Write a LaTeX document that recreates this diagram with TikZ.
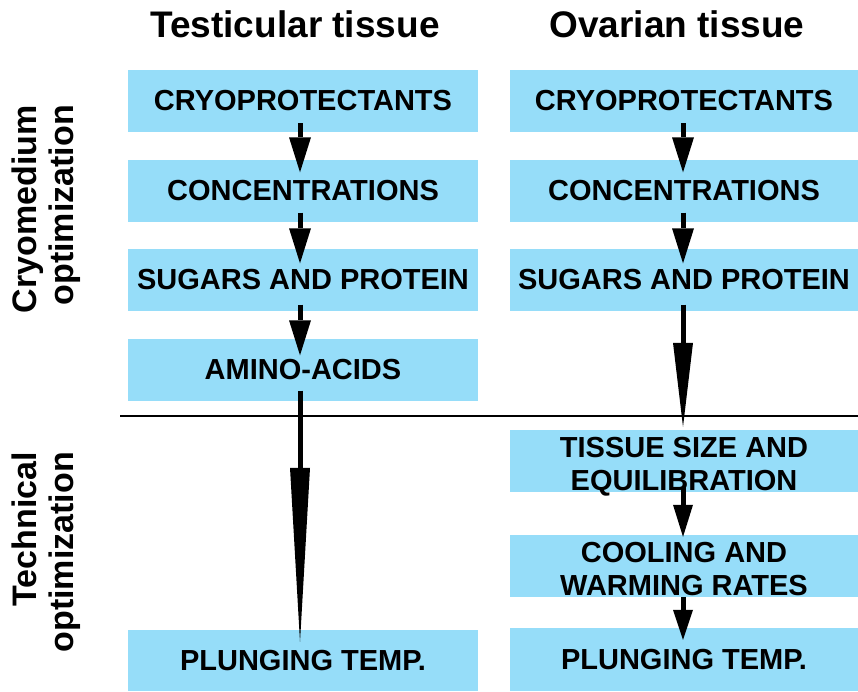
\documentclass[tikz,border=0pt]{standalone}
\usepackage{fontspec}
\setmainfont{Liberation Sans}
\usetikzlibrary{arrows.meta}
\definecolor{boxblue}{RGB}{150,221,249}
\tikzset{
  box/.style={rectangle, fill=boxblue, inner sep=0pt, minimum height=62pt,
    align=center, font=\bfseries\fontsize{29}{33}\selectfont},
  lbox/.style={box, minimum width=350pt},
  rbox/.style={box, minimum width=348pt},
  twoline/.style={text height=58pt, text depth=0pt},
  title/.style={font=\bfseries\fontsize{37}{40}\selectfont, anchor=base, inner sep=0pt},
  side/.style={font=\bfseries\fontsize{34}{37}\selectfont, rotate=90, align=right, anchor=east, inner sep=0pt},
  shaft/.style={line width=5pt},
}
\newcommand{\headtip}[2]{-{Triangle[length=#1pt,width=#2pt,line width=0pt]}}
\begin{document}
\begin{tikzpicture}[x=1pt,y=-1pt]
\useasboundingbox (0,0) rectangle (858,691);
% titles
\node[title] (tt) at (295,37) {Testicular tissue};
\node[title] (ot) at (677,37) {Ovarian tissue};
% side labels
\node[side] (cm) at (46.5,105) {Cryomedium\\optimization};
\node[side] (to) at (46.5,452) {Technical\\optimization};
% left column
\node[lbox] (l1) at (303,101) {CRYOPROTECTANTS};
\node[lbox] (l2) at (303,190.5) {CONCENTRATIONS};
\node[lbox] (l3) at (303,279.5) {SUGARS AND PROTEIN};
\node[lbox] (l4) at (303,369.5) {AMINO-ACIDS};
\node[lbox, minimum height=61pt] (l5) at (303,660.5) {PLUNGING TEMP.};
% right column
\node[rbox] (r1) at (684,101) {CRYOPROTECTANTS};
\node[rbox] (r2) at (684,190.5) {CONCENTRATIONS};
\node[rbox] (r3) at (684,279.5) {SUGARS AND PROTEIN};
\node[rbox, twoline] (r4) at (684,461) {TISSUE SIZE AND\\EQUILIBRATION};
\node[rbox, twoline] (r5) at (684,566) {COOLING AND\\WARMING RATES};
\node[rbox, minimum height=63pt] (r6) at (684,659.5) {PLUNGING TEMP.};
% separator
\coordinate (sepL) at (120,416);
\coordinate (sepR) at (858,416);
\draw[line width=2.2pt] (sepL) -- (sepR);
% left arrows
\draw[shaft, \headtip{35}{22}] ([xshift=-3pt,yshift=9pt]l1.south) -- ([xshift=-3pt,yshift=-13pt]l2.north);
\draw[shaft, \headtip{35}{22}] ([xshift=-3pt,yshift=9pt]l2.south) -- ([xshift=-3pt,yshift=-15pt]l3.north);
\draw[shaft, \headtip{35}{22}] ([xshift=-3pt,yshift=6pt]l3.south) -- ([xshift=-3pt,yshift=-17pt]l4.north);
\draw[shaft, \headtip{174}{20}] ([xshift=-3pt,yshift=10pt]l4.south) -- ([xshift=-3pt,yshift=-12pt]l5.north);
% right arrows
\draw[shaft, \headtip{35}{22}] ([xshift=-1pt,yshift=9pt]r1.south) -- ([xshift=-1pt,yshift=-13pt]r2.north);
\draw[shaft, \headtip{35}{22}] ([xshift=-1pt,yshift=9pt]r2.south) -- ([xshift=-1pt,yshift=-15pt]r3.north);
\draw[shaft, \headtip{84}{20}] ([xshift=-1pt,yshift=6pt]r3.south) -- ([xshift=-1pt,yshift=3pt]r4.north);
\draw[shaft, \headtip{32}{20}] ([xshift=-1pt,yshift=5pt]r4.south) -- ([xshift=-1pt,yshift=-2pt]r5.north);
\draw[shaft, \headtip{30}{20}] ([xshift=-1pt,yshift=0pt]r5.south) -- ([xshift=-1pt,yshift=-12pt]r6.north);
\end{tikzpicture}
\end{document}
